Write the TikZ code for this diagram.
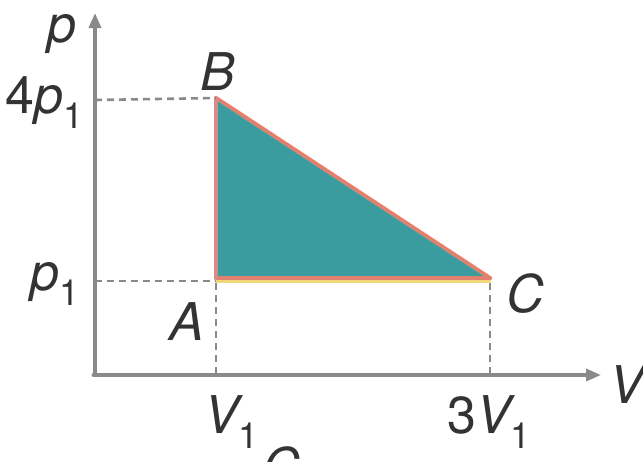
\documentclass[tikz,border=0pt]{standalone}
\usepackage{fontspec}
\setmainfont{TeX Gyre Heros}
\usetikzlibrary{arrows.meta}

\definecolor{axisgrey}{HTML}{8A8A8A}
\definecolor{inkgrey}{HTML}{333333}
\definecolor{tealfill}{HTML}{3A9C9E}
\definecolor{edgepink}{HTML}{D68A8A}
\definecolor{edgered}{HTML}{E0806E}
\definecolor{edgeyellow}{HTML}{F2D77A}

\newcommand{\subone}{\raisebox{-0.3em}{\fontsize{36}{40}\selectfont\upshape 1}}

\begin{document}
\begin{tikzpicture}[x=1pt, y=-1pt, line cap=round, line join=round]
  \tikzset{
    axis/.style={draw=axisgrey, line width=3.5pt, -{Triangle[length=15pt,width=12pt]}},
    guide/.style={draw=axisgrey, line width=2.6pt, line cap=butt, dash pattern=on 7pt off 5pt},
    lbl/.style={text=inkgrey, inner sep=0pt, font=\fontsize{52}{60}\selectfont\itshape},
  }

  %% ════ 坐标点 ════
  \coordinate (O)    at (95,375);
  \coordinate (ptip) at (95,13);
  \coordinate (Vtip) at (601,375);
  \coordinate (A)    at (216,278);
  \coordinate (B)    at (216,98);
  \coordinate (C)    at (490,278);
  \coordinate (pone) at (95,281);
  \coordinate (pfour) at (95,100);
  \coordinate (Vone) at (216,375);
  \coordinate (Vthree) at (490,375);

  %% ════ 三角形 ════
  \fill[tealfill] (A) -- (B) -- (C) -- cycle;
  \draw[edgeyellow, line width=3pt] ([yshift=-3pt]A) -- ([yshift=-3pt]C);
  \draw[edgered, line width=4pt] (A) -- (C);
  \draw[edgered, line width=4pt] (B) -- (C);
  \draw[edgepink, line width=4pt] (A) -- (B);

  %% ════ 虚线 ════
  \draw[guide] (pfour) -- (B);
  \draw[guide] (pone) -- ([yshift=-3pt]A);
  \draw[guide] ([yshift=-5pt]A) -- (Vone);
  \draw[guide] ([yshift=-5pt]C) -- (Vthree);

  %% ════ 坐标轴 ════
  \draw[axis] (O) -- (ptip);
  \draw[axis] ([xshift=-1.75pt]O) -- (Vtip);

  %% ════ 标签 ════
  \node[lbl, anchor=base]      (lp)  at (62,42)   {p};
  \node[lbl, anchor=base east] (l4p) at (84,113)  {\upshape 4\itshape p\subone};
  \node[lbl, anchor=base east] (lp1) at (80,290)  {p\subone};
  \node[lbl, anchor=base]      (lA)  at (187,340) {A};
  \node[lbl, anchor=base]      (lB)  at (218,90)  {B};
  \node[lbl, anchor=base]      (lC)  at (525,312) {C};
  \node[lbl, anchor=base west] (lV)  at (609,403) {V};
  \node[lbl, anchor=base west] (lV1) at (204,433) {V\subone};
  \node[lbl, anchor=base west] (l3V) at (447,433) {\upshape 3\itshape V\subone};
  \node[lbl, anchor=base]      (lcut) at (281,485) {C};

  % 钉死画布
  \pgfresetboundingbox
  \path[use as bounding box] (0,0) rectangle (643,461);
\end{tikzpicture}
\end{document}
